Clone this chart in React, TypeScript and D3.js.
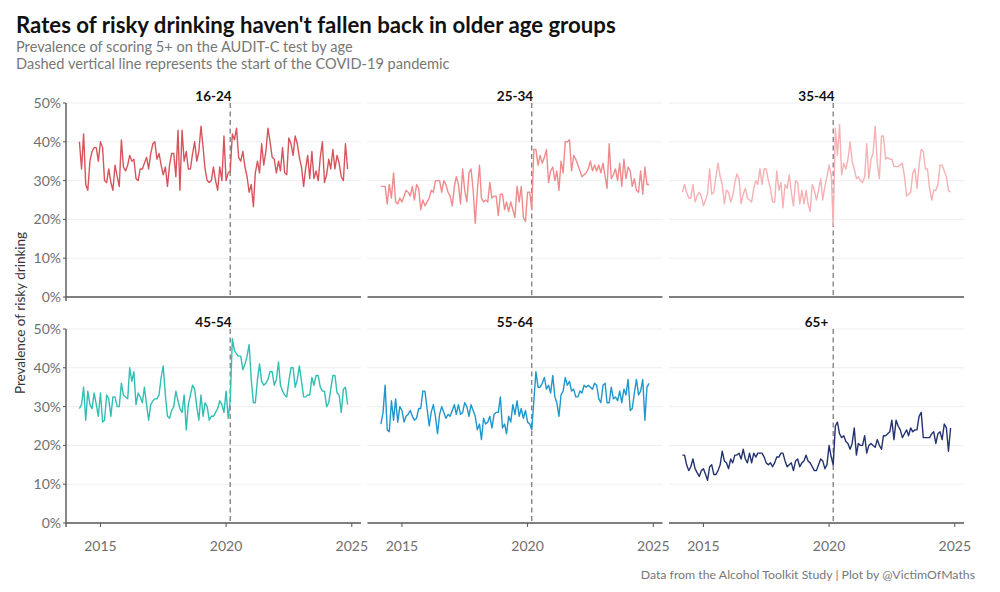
import * as d3 from 'd3';

// monthly survey waves, March 2014 to November 2024
const firstMonth = new Date(2014, 2, 1);

const ageGroups = ['16-24', '25-34', '35-44', '45-54', '55-64', '65+'];
const groupColours = ['#d8545c', '#f08a8d', '#f5b1b3', '#2fbfb3', '#1d97cc', '#243370'];

// % scoring 5+ on AUDIT-C
const rate16to24 = [
  40, 33, 42, 29, 27.5, 35, 37.5, 38.5, 38.5, 35, 40, 38.5, 30, 29.5, 33, 29.5, 27.5, 34, 31, 28.5,
  40.5, 33.5, 32.5, 34, 36.5, 35, 35.5, 30.5, 30, 33, 33, 34.5, 36, 33, 37, 39.5, 40, 35.5, 37, 34,
  31.5, 33.5, 28.5, 34, 37, 37, 31, 43, 27.5, 43, 35, 37.5, 33, 33, 37, 40, 35, 37.5, 44, 38.5,
  33, 30, 29.5, 30, 33.5, 30, 27.5, 33.5, 30, 41.5, 30, 32, 32.5, 42, 40.5, 43.5, 36, 35, 37.5, 33.5,
  31, 27, 29, 23.3, 32, 35, 32, 39.5, 34, 37.5, 43.5, 40, 36, 35.5, 32, 35, 32.5, 38.5, 32, 31.5,
  41, 39.5, 36.5, 41.5, 39.5, 36, 33.5, 28.5, 33, 36.5, 30.5, 37.5, 30.5, 32.5, 30, 36, 40, 29.5, 31.5, 35.5,
  33, 38, 33, 36.5, 34.5, 31, 30, 39.5, 33,
];
const rate25to34 = [
  28.5, 28.5, 28.5, 24, 29, 25.5, 32, 24.5, 24, 25.5, 24.5, 26, 27.5, 27, 26, 28.5, 25, 29, 28, 22.5,
  25, 23.5, 24.5, 25.5, 27.5, 27, 30, 30, 30, 27, 30, 29, 27, 26, 23.5, 28.5, 31, 29, 24, 33,
  27.5, 24.5, 32, 33, 27.5, 19, 27.5, 34, 25.5, 24.5, 25, 24.5, 29.5, 25.5, 26, 26, 21, 26.5, 26.5, 22.5,
  24.5, 22, 24.5, 22.5, 20.5, 28.5, 24.5, 28.5, 20.5, 19.5, 27, 27, 22.5, 38, 38, 34, 36.5, 34.5, 36, 38,
  29.5, 32.5, 33.5, 30, 32.5, 27.5, 35, 32, 40, 40, 40.5, 32.5, 36.5, 35.5, 34, 32.5, 31, 31.5, 32, 33,
  35, 32.5, 34, 32.5, 34, 32, 34.5, 31, 28, 39.5, 30.5, 31.5, 33, 30, 34.5, 28.5, 35.5, 30.5, 33.5, 32.5,
  28.5, 30.5, 27.5, 27, 32.5, 26.5, 33.5, 29, 29,
];
const rate35to44 = [
  27, 29, 27, 25.5, 25.5, 29, 24.5, 26, 27, 26, 23.5, 25, 26.5, 33, 26.5, 27, 31, 34.5, 31, 29,
  24, 27.5, 27, 24.5, 26, 29.5, 31.7, 30.5, 24, 26.5, 28, 25.5, 25, 24.5, 28, 30, 29, 33, 29, 33,
  33, 30, 28, 24.5, 24.5, 32.5, 27.5, 29.5, 23, 29, 28, 31.5, 27, 23.5, 30, 29.5, 24, 27.5, 24, 27.5,
  24, 22, 29, 27.5, 25, 27.5, 30.5, 25, 28.5, 31, 34, 31.5, 18.5, 43.5, 36.5, 44.5, 31.5, 34.5, 33, 35.5,
  40, 35, 33, 30.5, 31, 30, 29.5, 31, 39.5, 30.5, 35.5, 37, 44, 34.5, 30.5, 41.5, 41.5, 35.5, 36, 35.5,
  35.5, 33.7, 33.6, 33.6, 34, 34.5, 31, 26, 26.5, 27, 32, 33, 28, 34, 38, 37.5, 33, 33, 28, 25,
  27.5, 27.5, 29, 34, 34, 32.5, 31, 27.5, 27,
];
const rate45to54 = [
  29.5, 30.5, 35, 26.5, 34, 30.5, 29.5, 33.5, 30.5, 27.5, 33.5, 26, 26.5, 33, 32, 27.5, 32.5, 32.5, 30, 30,
  36, 33, 32.5, 32, 40, 36.5, 39, 30.5, 33.5, 32.5, 31, 35, 30.5, 26.5, 30.5, 31.5, 32, 32, 33, 37.5,
  40.5, 33, 27.5, 27, 29, 30, 34, 31.5, 29.5, 28.5, 33, 24, 30.5, 33, 35.5, 34.5, 30, 26.5, 33, 27.5,
  31, 30, 26.5, 27.5, 27.5, 28.5, 29.5, 31.5, 30.5, 28.5, 34, 27, 31.5, 47.5, 44.5, 43.5, 43, 43, 39.5, 41,
  43, 46, 37, 31, 31, 37, 41, 36.5, 35.5, 36, 37, 39, 39, 35.5, 37, 41.5, 35.5, 34, 33, 32.5,
  36.5, 40, 40, 35, 37, 40.5, 36.5, 32.5, 32.5, 33, 33, 37.5, 35.5, 38, 38, 35, 34, 34, 30, 31,
  34.5, 38, 38, 33.5, 33, 28.5, 34.5, 35, 30.5,
];
const rate55to64 = [
  25.5, 28.5, 35.5, 24, 23.5, 31.5, 26.5, 32, 26, 30, 29, 26, 27.5, 28, 29, 27.5, 26.5, 27, 29.5, 29.5,
  34, 34, 29.5, 25, 28.5, 30.5, 27.5, 23, 28, 30, 28.5, 27, 28, 27.5, 29, 30.5, 28, 30.5, 28, 28.5,
  31, 30, 27.5, 30.5, 29, 27.5, 24, 25.5, 21.5, 27, 25.5, 26, 27.5, 24.5, 28, 28.5, 28.5, 32.5, 24.5, 25.5,
  23, 27.5, 26, 30.5, 28, 31.5, 27.5, 29.5, 27, 29, 26, 25.5, 24, 31.5, 39, 35, 35, 36, 37.5, 34.5,
  35.5, 33.5, 38, 32.5, 31, 27.5, 33, 34, 37.5, 35.5, 36.5, 34, 34.5, 32.5, 32.5, 34, 33.5, 35.5, 35, 35.5,
  35, 34.5, 36, 35.5, 32, 31, 35.5, 36, 31, 31, 35, 32, 32.5, 31.5, 34, 31, 34.5, 33, 37, 29,
  29.5, 33.5, 37, 33, 34, 37, 26.5, 35, 36,
];
const rate65plus = [
  17.5, 17.5, 15, 13.5, 14.5, 16.5, 14, 13, 12, 13.5, 14, 12.5, 11, 14.5, 15, 12.5, 12.5, 13.5, 15, 18.5,
  16, 15.5, 14, 16.5, 15.5, 17.5, 17.5, 18, 16.5, 19, 16.5, 15.5, 18, 15.5, 18, 17, 18, 18, 18, 17,
  15.5, 15, 15.5, 14.5, 15.5, 17, 17, 18, 18, 16, 14.5, 15, 15.5, 13.5, 16, 16.5, 14.5, 15.5, 16, 17.5,
  16, 15.5, 14.5, 13.5, 13.5, 15, 16.5, 16, 14, 15, 20, 17, 15, 25, 26, 23, 22, 22.5, 21, 20.5,
  19, 20.5, 24.5, 17.5, 20.5, 20, 20, 22.5, 18, 20, 20.5, 20, 19.5, 21.5, 20, 19, 22.5, 22.5, 23, 23.5,
  26.5, 21.5, 26.5, 25, 24, 22, 23, 24, 22.5, 24.5, 23.5, 24, 24, 27.5, 28.5, 22, 22, 22, 22, 23,
  23.5, 20.5, 23, 23.5, 21.5, 25.5, 24.5, 18.5, 24.5,
];
const groupRates = [rate16to24, rate25to34, rate35to44, rate45to54, rate55to64, rate65plus];

const yTicks = [0, 10, 20, 30, 40, 50];
const xTickYears = [2015, 2020, 2025];
const covidStart = new Date(2020, 2, 1);

const title = "Rates of risky drinking haven't fallen back in older age groups";
const subtitle1 = 'Prevalence of scoring 5+ on the AUDIT-C test by age';
const subtitle2 = 'Dashed vertical line represents the start of the COVID-19 pandemic';
const yTitle = 'Prevalence of risky drinking';
const caption = 'Data from the Alcohol Toolkit Study | Plot by @VictimOfMaths';

const width = 1000;
const height = 592;
const panelLefts = [66, 367.5, 669];
const panelWidth = 295;
const rowTops = [103, 329];
const panelHeight = 194;
const font = 'Lato, "Open Sans", sans-serif';

const months = groupRates[0].map((_, i) => d3.timeMonth.offset(firstMonth, i));

export default function App() {
  // ggplot-style 5% padding either side of the date range
  const [d0, d1] = d3.extent(months) as [Date, Date];
  const pad = (d1.getTime() - d0.getTime()) * 0.05;
  const x = d3
    .scaleTime()
    .domain([new Date(d0.getTime() - pad), new Date(d1.getTime() + pad)])
    .range([0, panelWidth]);
  const y = d3.scaleLinear().domain([0, 50]).range([panelHeight, 0]);

  const line = d3
    .line<number>()
    .x((_, i) => x(months[i]))
    .y((d) => y(d));

  const covidX = x(covidStart);

  return (
    <svg
      width={width}
      height={height}
      style={{ position: 'absolute', left: 0, top: 0, background: '#fff' }}
      fontFamily={font}
    >
      <text x={16} y={33} fontSize={22.2} fontWeight={700} fill="#111">
        {title}
      </text>
      <text x={16} y={52} fontSize={14.6} fill="#777">
        {subtitle1}
      </text>
      <text x={16} y={69} fontSize={14.6} fill="#777">
        {subtitle2}
      </text>

      <text
        transform={`translate(25, ${(rowTops[0] + rowTops[1] + panelHeight) / 2}) rotate(-90)`}
        textAnchor="middle"
        fontSize={13.5}
        fill="#333"
      >
        {yTitle}
      </text>

      {ageGroups.map((group, g) => {
        const col = g % 3;
        const row = Math.floor(g / 3);
        const left = panelLefts[col];
        const top = rowTops[row];
        return (
          <g key={group} transform={`translate(${left}, ${top})`}>
            {yTicks
              .filter((t) => t > 0)
              .map((t) => (
                <line key={t} x1={0} x2={panelWidth} y1={y(t)} y2={y(t)} stroke="#ececec" strokeWidth={0.9} />
              ))}
            <line
              x1={covidX}
              x2={covidX}
              y1={0}
              y2={panelHeight}
              stroke="#7d7d7d"
              strokeWidth={1.3}
              strokeDasharray="5,3.5"
            />
            <path d={line(groupRates[g]) || ''} fill="none" stroke={groupColours[g]} strokeWidth={1.4} strokeLinejoin="round" />
            <line x1={0} x2={panelWidth} y1={panelHeight} y2={panelHeight} stroke="#555" strokeWidth={1.4} />
            <text x={panelWidth / 2} y={-2} textAnchor="middle" fontSize={13.5} fontWeight={700} fill="#111">
              {group}
            </text>

            {col === 0 && (
              <g>
                <line x1={0} x2={0} y1={0} y2={panelHeight + 4} stroke="#555" strokeWidth={1.4} />
                {yTicks.map((t) => (
                  <g key={t}>
                    <line x1={-3} x2={0} y1={y(t)} y2={y(t)} stroke="#555" strokeWidth={1} />
                    <text x={-5} y={y(t)} dy="0.36em" textAnchor="end" fontSize={14} fill="#6f6f6f">
                      {`${t}%`}
                    </text>
                  </g>
                ))}
              </g>
            )}

            {row === 1 &&
              xTickYears.map((yr) => {
                const tx = x(new Date(yr, 0, 1));
                return (
                  <g key={yr}>
                    <line x1={tx} x2={tx} y1={panelHeight} y2={panelHeight + 4} stroke="#555" strokeWidth={1} />
                    <text x={tx} y={panelHeight + 28} textAnchor="middle" fontSize={14} fill="#6f6f6f">
                      {yr}
                    </text>
                  </g>
                );
              })}
          </g>
        );
      })}

      <text x={975} y={579} textAnchor="end" fontSize={12.3} fill="#777">
        {caption}
      </text>
    </svg>
  );
}
